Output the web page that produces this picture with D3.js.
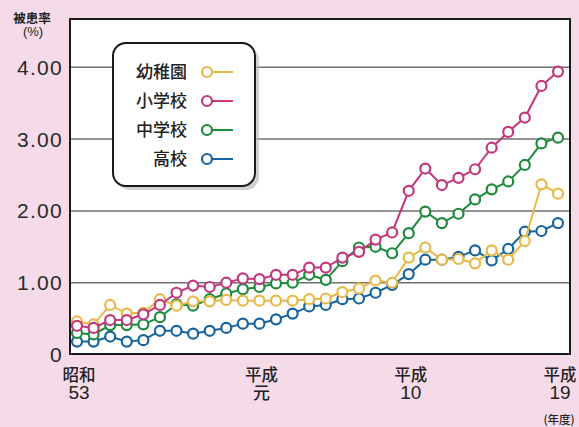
<!DOCTYPE html>
<html><head><meta charset="utf-8">
<script src="https://cdn.jsdelivr.net/npm/d3@7"></script>
<style>
html,body{margin:0;padding:0;background:#f5dbe8;}
svg{display:block;}
</style></head>
<body><svg id="c" width="579" height="427"></svg>
<script>
const years = ["S53","S54","S55","S56","S57","S58","S59","S60","S61","S62","S63","H1","H2","H3","H4","H5","H6","H7","H8","H9","H10","H11","H12","H13","H14","H15","H16","H17","H18","H19"];
const kindergarten = [0.46,0.42,0.69,0.57,0.58,0.77,0.68,0.74,0.74,0.76,0.75,0.75,0.75,0.75,0.77,0.78,0.87,0.92,1.03,1.00,1.35,1.49,1.32,1.33,1.27,1.45,1.32,1.58,2.37,2.24];
const elementary = [0.40,0.37,0.48,0.48,0.56,0.69,0.86,0.96,0.94,1.00,1.06,1.05,1.11,1.11,1.21,1.21,1.35,1.43,1.60,1.70,2.28,2.59,2.36,2.46,2.58,2.88,3.10,3.30,3.74,3.94];
const juniorHigh = [0.30,0.28,0.41,0.41,0.42,0.52,0.70,0.68,0.77,0.85,0.91,0.94,0.99,1.00,1.11,1.04,1.30,1.49,1.50,1.41,1.69,1.99,1.83,1.96,2.16,2.30,2.41,2.64,2.94,3.02];
const highSchool = [0.18,0.18,0.25,0.18,0.20,0.33,0.33,0.29,0.33,0.37,0.43,0.43,0.49,0.57,0.67,0.69,0.77,0.78,0.86,0.97,1.12,1.32,1.32,1.36,1.45,1.31,1.47,1.71,1.72,1.83];
const seriesNames = ["幼稚園","小学校","中学校","高校"];
const seriesColors = ["#e7b94a","#c3387c","#1d8a3c","#17649f"];
const yTicks = [0,1,2,3,4];
const yTickLabels = ["0","1.00","2.00","3.00","4.00"];
const xTickIdx = [0,11,20,29];
const xTickTop = ["昭和","平成","平成","平成"];
const xTickBottom = ["53","元","10","19"];

const svg = d3.select("#c");
const plot = {l:70, r:570, t:19, b:354};
const x = d3.scaleLinear().domain([0, years.length-1]).range([77, 558]);
const y = d3.scaleLinear().domain([0, 4]).range([354.5, 67.3]);

svg.append("rect").attr("x",plot.l).attr("y",plot.t).attr("width",plot.r-plot.l).attr("height",plot.b-plot.t).attr("fill","#fff");

svg.append("g").selectAll("line").data(yTicks.filter(d=>d>0)).join("line")
  .attr("x1",plot.l).attr("x2",plot.r).attr("y1",d=>y(d)).attr("y2",d=>y(d))
  .attr("stroke","#6f6f6f").attr("stroke-width",1.5);

svg.append("g").selectAll("text").data(yTicks).join("text")
  .attr("x",63).attr("y",d=>y(d)+7.5).attr("text-anchor","end")
  .attr("font-family","Liberation Sans").attr("font-size",21).attr("letter-spacing",1.3).attr("fill","#2a2a2a")
  .text((d,i)=>yTickLabels[i]);

const yl = svg.append("text").attr("text-anchor","middle").attr("fill","#222");
yl.append("tspan").attr("x",32).attr("y",23)
  .attr("font-family","Noto Sans CJK JP").attr("font-weight",700).attr("font-size",12.5).text("被患率");
yl.append("tspan").attr("x",33).attr("y",36)
  .attr("font-family","Liberation Sans").attr("font-size",13).text("(%)");

const xl = svg.append("g");
xTickIdx.forEach((d,i)=>{
  const t = xl.append("text").attr("text-anchor","middle").attr("fill","#222");
  t.append("tspan").attr("x",x(d)+2).attr("y",381)
    .attr("font-family","Noto Sans CJK JP").attr("font-weight",500).attr("font-size",16.5).text(xTickTop[i]);
  t.append("tspan").attr("x",x(d)+2).attr("y",399)
    .attr("font-family",i===1?"Noto Sans CJK JP":"Liberation Sans").attr("font-weight",i===1?500:400)
    .attr("font-size",i===1?17:19).text(xTickBottom[i]);
  if(i===3){
    t.append("tspan").attr("x",x(d)+1).attr("y",424)
      .attr("font-family","Noto Sans CJK JP").attr("font-size",11.5).attr("font-weight",500).text("(年度)");
  }
});

const data = [kindergarten, elementary, juniorHigh, highSchool];
const order = [3,2,0,1];
const line = d3.line().x((d,i)=>x(i)).y(d=>y(d));
order.forEach(s=>{
  const g = svg.append("g");
  g.append("path").datum(data[s]).attr("d",line).attr("fill","none")
    .attr("stroke",seriesColors[s]).attr("stroke-width",2);
  g.selectAll("circle").data(data[s]).join("circle")
    .attr("cx",(d,i)=>x(i)).attr("cy",d=>y(d)).attr("r",5)
    .attr("fill","#fff").attr("stroke",seriesColors[s]).attr("stroke-width",2.2);
});

svg.append("rect").attr("x",plot.l).attr("y",plot.t).attr("width",plot.r-plot.l).attr("height",plot.b-plot.t)
  .attr("fill","none").attr("stroke","#1a1a1a").attr("stroke-width",2);

const lg = svg.append("g");
lg.append("rect").attr("x",117).attr("y",47).attr("width",142).attr("height",143).attr("rx",13)
  .attr("fill","#bdbdbd").attr("opacity",0.7);
lg.append("rect").attr("x",113).attr("y",43).attr("width",142).attr("height",143).attr("rx",13)
  .attr("fill","#fff").attr("stroke","#1a1a1a").attr("stroke-width",2);
const rowY = d3.scaleLinear().domain([0,3]).range([72,159]);
seriesNames.forEach((n,i)=>{
  lg.append("text").attr("x",187).attr("y",rowY(i)+6).attr("text-anchor","end")
    .attr("font-family","Noto Sans CJK JP").attr("font-weight",500).attr("font-size",17).attr("fill","#222").text(n);
  lg.append("line").attr("x1",207).attr("x2",233).attr("y1",rowY(i)).attr("y2",rowY(i))
    .attr("stroke",seriesColors[i]).attr("stroke-width",2);
  lg.append("circle").attr("cx",207).attr("cy",rowY(i)).attr("r",5)
    .attr("fill","#fff").attr("stroke",seriesColors[i]).attr("stroke-width",2.2);
});
</script></body></html>
